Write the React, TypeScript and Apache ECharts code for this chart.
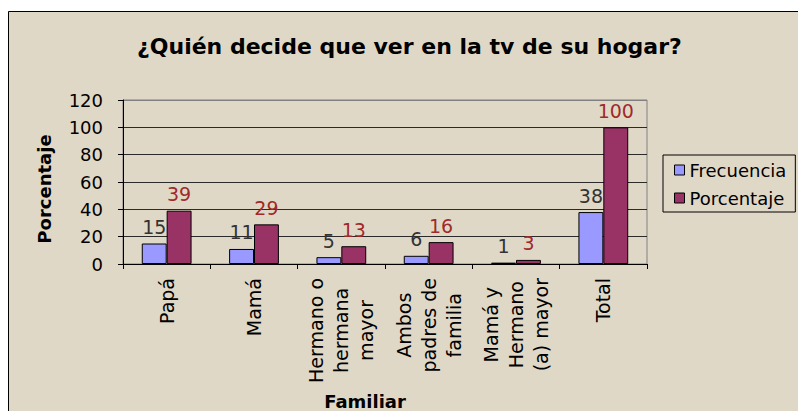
import React, { useEffect, useRef } from "react";
import * as echarts from "echarts";

const categories = [
  "Papá",
  "Mamá",
  "Hermano o\nhermana\nmayor",
  "Ambos\npadres de\nfamilia",
  "Mamá y\nHermano\n(a) mayor",
  "Total",
];
const frecuencia = [15, 11, 5, 6, 1, 38];
const porcentaje = [39, 29, 13, 16, 3, 100];
const yMin = 0;
const yMax = 120;
const yInterval = 20;

const FONT = "DejaVu Sans";

export default function App() {
  const ref = useRef<HTMLDivElement>(null);

  useEffect(() => {
    if (!ref.current) return;
    const chart = echarts.init(ref.current, undefined, { renderer: "svg" });
    const option: any = {
      animation: false,
      backgroundColor: "#ffffff",
      graphic: [
        {
          type: "rect",
          silent: true,
          z: -10,
          shape: { x: 8.5, y: 11.5, width: 800, height: 410 },
          style: { fill: "#E0D8C7", stroke: "#000", lineWidth: 1 },
        },
      ],
      title: {
        text: "¿Quién decide que ver en la tv de su hogar?",
        left: 137,
        top: 35,
        padding: 0,
        textStyle: {
          fontFamily: FONT,
          fontWeight: "bold",
          fontSize: 22,
          color: "#000",
        },
      },
      legend: {
        orient: "vertical",
        left: 663,
        top: 155,
        padding: [5, 9, 4, 11],
        itemGap: 8,
        itemWidth: 10,
        itemHeight: 10,
        icon: "rect",
        borderColor: "#000",
        borderWidth: 1,
        itemStyle: { borderColor: "#000", borderWidth: 1 },
        textStyle: { fontFamily: FONT, fontSize: 18, color: "#000", lineHeight: 20 },
        data: ["Frecuencia", "Porcentaje"],
      },
      grid: {
        left: 123,
        top: 100,
        right: 151,
        bottom: 145,
        show: true,
        borderColor: "#808080",
        borderWidth: 1,
        backgroundColor: "transparent",
      },
      xAxis: {
        type: "category",
        data: categories,
        name: "Familiar",
        nameLocation: "middle",
        nameGap: 128,
        nameTextStyle: {
          fontFamily: FONT,
          fontWeight: "bold",
          fontSize: 18,
          color: "#000",
          padding: [0, 40, 0, 0],
        },
        axisLine: { lineStyle: { color: "#000", width: 1 } },
        axisTick: { show: true, length: 5, lineStyle: { color: "#000" } },
        axisLabel: {
          rotate: 90,
          interval: 0,
          margin: 14,
          color: "#000",
          fontFamily: FONT,
          fontSize: 19,
          formatter: (v: string) =>
            v
              .split("\n")
              .map((l) => `{c|${l}}`)
              .join("\n"),
          rich: {
            c: {
              align: "center",
              fontFamily: FONT,
              fontSize: 19,
              lineHeight: 25,
              color: "#000",
            },
          },
        },
      },
      yAxis: {
        type: "value",
        min: yMin,
        max: yMax,
        interval: yInterval,
        name: "Porcentaje",
        nameLocation: "middle",
        nameGap: 70,
        nameTextStyle: {
          fontFamily: FONT,
          fontWeight: "bold",
          fontSize: 18,
          color: "#000",
          padding: [0, 14, 0, 0],
        },
        axisLine: { show: true, lineStyle: { color: "#000", width: 1 } },
        axisTick: { show: true, length: 5, lineStyle: { color: "#000" } },
        axisLabel: { margin: 20, color: "#000", fontFamily: FONT, fontSize: 18 },
        splitLine: {
          show: true,
          lineStyle: {
            color: ["#2a2a2a", "#2a2a2a", "#2a2a2a", "#2a2a2a", "#2a2a2a", "#2a2a2a", "#808080"],
            width: 1,
          },
        },
      },
      series: [
        {
          name: "Frecuencia",
          type: "bar",
          data: frecuencia,
          barGap: "0%",
          barCategoryGap: "43%",
          itemStyle: { color: "#9999FF", borderColor: "#000", borderWidth: 1 },
          label: {
            show: true,
            position: "top",
            distance: 7,
            color: "#333",
            fontFamily: FONT,
            fontSize: 19,
          },
        },
        {
          name: "Porcentaje",
          type: "bar",
          data: porcentaje,
          barGap: "0%",
          barCategoryGap: "43%",
          itemStyle: { color: "#993366", borderColor: "#000", borderWidth: 1 },
          label: {
            show: true,
            position: "top",
            distance: 7,
            color: "#A02A2A",
            fontFamily: FONT,
            fontSize: 19,
          },
        },
      ],
    };
    chart.setOption(option);
    return () => chart.dispose();
  }, []);

  return (
    <div
      ref={ref}
      style={{ position: "absolute", left: 0, top: 0, width: 798, height: 411 }}
    />
  );
}
